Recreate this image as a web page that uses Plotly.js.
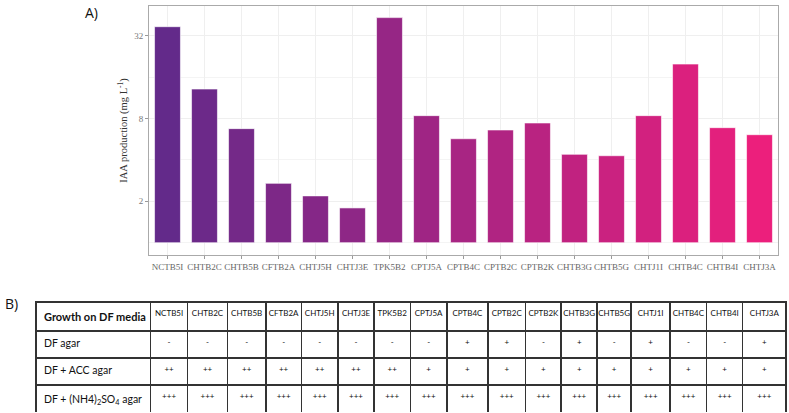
<!DOCTYPE html>
<html>
<head>
<meta charset="utf-8">
<script src="https://cdn.plot.ly/plotly-3.0.1.min.js"></script>
<style>
  body { margin: 0; background: #fff; }
  #chart { width: 789px; height: 413px; }
</style>
</head>
<body>
<div id="chart"></div>
<script>
const strains = ['NCTB5I', 'CHTB2C', 'CHTB5B', 'CFTB2A', 'CHTJ5H', 'CHTJ3E', 'TPK5B2', 'CPTJ5A', 'CPTB4C',
    'CPTB2C', 'CPTB2K', 'CHTB3G', 'CHTB5G', 'CHTJ1I', 'CHTB4C', 'CHTB4I', 'CHTJ3A'];
const iaa = [37.2, 13.1, 6.75, 2.70, 2.19, 1.79, 43.3, 8.39, 5.70, 6.60, 7.42, 4.39, 4.29, 8.39, 19.9, 6.86, 6.10];

const tableHeader = 'Growth on DF media';
const media = ['DF agar', 'DF + ACC agar', 'DF + (NH4)<sub>2</sub>SO<sub>4</sub> agar'];
const dfAgar = ['-', '-', '-', '-', '-', '-', '-', '-', '+', '+', '-', '+', '-', '+', '-', '-', '+'];
const dfAcc = ['++', '++', '++', '++', '++', '++', '++', '+', '+', '+', '+', '+', '+', '+', '+', '+', '+'];
const dfNh4 = ['+++', '+++', '+++', '+++', '+++', '+++', '+++', '+++', '+++', '+++', '+++', '+++', '+++', '+++', '+++', '+++', '+++'];
const colWidths = [114.7, 37, 40, 38.3, 35.7, 36.6, 36, 36.4, 36.6, 41, 37.7, 35.7, 36, 34, 39, 36.6, 36, 43.4];

// purple -> pink gradient along the bars
const c0 = [99, 42, 138], c1 = [236, 31, 124];
const barColors = strains.map((s, i) => {
    const t = i / (strains.length - 1);
    const c = c0.map((v, k) => Math.round(v + (c1[k] - v) * t));
    return 'rgb(' + c.join(',') + ')';
});

// bars start at 1 on the log2 scale, so the bar length is value - base
const base = 1;
const bars = {
    type: 'bar',
    x: strains,
    y: iaa.map(v => v - base),
    base: base,
    width: 0.7,
    marker: {color: barColors, line: {color: 'rgba(255,255,255,0.6)', width: 1}},
    xaxis: 'x', yaxis: 'y',
    hoverinfo: 'x'
};

// non-breaking spaces keep the row labels on one line
const nb = s => s.replace(/ /g, '\u00a0');
const cellCols = [media.map(nb)];
const rows = [dfAgar, dfAcc, dfNh4];
strains.forEach((s, i) => cellCols.push(rows.map(r => r[i])));

const table = {
    type: 'table',
    domain: {x: [36 / 789, 786.7 / 789], y: [0, 111 / 413]},
    columnwidth: colWidths,
    header: {
        values: ['<b>' + nb(tableHeader) + '</b>'].concat(strains),
        align: ['left'].concat(strains.map(() => 'center')),
        height: 27,
        fill: {color: 'white'},
        line: {color: '#333', width: 1.5},
        font: {family: 'Lato', size: [11].concat(strains.map(() => 8)), color: '#111'}
    },
    cells: {
        values: cellCols,
        align: ['left'].concat(strains.map(() => 'center')),
        height: 27,
        fill: {color: 'white'},
        line: {color: '#333', width: 1.5},
        font: {family: 'Lato', size: [10.5].concat(strains.map(() => 8)), color: '#111'}
    }
};

const layout = {
    width: 789,
    height: 413,
    margin: {l: 0, r: 0, t: 0, b: 0},
    paper_bgcolor: 'white',
    plot_bgcolor: 'white',
    showlegend: false,
    font: {family: 'Liberation Serif', color: '#4d4d4d'},
    xaxis: {
        domain: [149 / 789, 778 / 789],
        anchor: 'y',
        range: [-0.5, 16.5],
        showgrid: true,
        gridcolor: '#efefef',
        gridwidth: 1,
        ticks: 'outside',
        ticklen: 3,
        tickcolor: '#999',
        tickfont: {family: 'Liberation Serif', size: 9, color: '#666'},
        tickangle: 0,
        showline: true,
        linecolor: '#aaa',
        linewidth: 1,
        mirror: true,
        zeroline: false,
        fixedrange: true
    },
    yaxis: {
        domain: [1 - 255 / 413, 1 - 6 / 413],
        anchor: 'x',
        type: 'log',
        range: [-0.0894, 1.721],
        tickmode: 'array',
        tickvals: [2, 8, 32],
        ticktext: ['2', '8', '32'],
        showgrid: true,
        gridcolor: '#efefef',
        minor: {tickmode: 'array', tickvals: [1, 4, 16], showgrid: true, gridcolor: '#f4f4f4', ticks: ''},
        ticks: 'outside',
        ticklen: 3,
        tickcolor: '#999',
        tickfont: {family: 'Liberation Serif', size: 9, color: '#777'},
        showline: true,
        linecolor: '#aaa',
        linewidth: 1,
        mirror: true,
        zeroline: false,
        title: {text: 'IAA production (mg L<sup>-1</sup>)', font: {family: 'Liberation Serif', size: 10.5, color: '#333'}, standoff: 4},
        fixedrange: true
    },
    annotations: [
        {text: 'A)', xref: 'paper', yref: 'paper', x: 83 / 789, y: 1 - 1 / 413, xanchor: 'left', yanchor: 'top',
            showarrow: false, font: {family: 'Open Sans', size: 14, color: '#111'}},
        {text: 'B)', xref: 'paper', yref: 'paper', x: 3 / 789, y: 1 - 292 / 413, xanchor: 'left', yanchor: 'top',
            showarrow: false, font: {family: 'Open Sans', size: 14, color: '#111'}}
    ]
};

Plotly.newPlot('chart', [bars, table], layout, {displayModeBar: false, staticPlot: true});
</script>
</body>
</html>
